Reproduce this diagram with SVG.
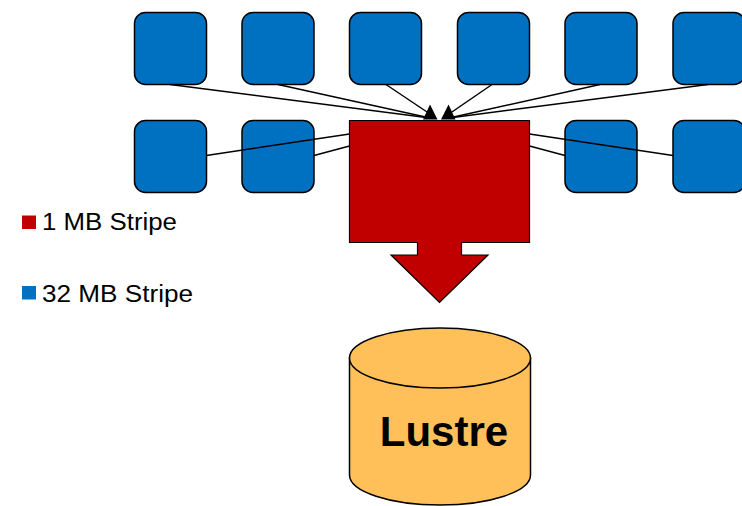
<svg xmlns="http://www.w3.org/2000/svg" width="742" height="506" viewBox="0 0 742 506">
<style>
.blk{fill:#0070C0;stroke:#000;stroke-width:1.5}
.ln{stroke:#000;stroke-width:1.5;fill:none}
.hd{fill:#000;stroke:none}
.lg{font-family:"Liberation Sans",Arial,sans-serif;font-size:23.5px;fill:#000}
</style>
<rect width="742" height="506" fill="#fff"/>
<g id="row1">
<g id="b1"><rect class="blk" x="134.5" y="12.5" width="72" height="72" rx="11"/></g>
<g id="b2"><rect class="blk" x="242" y="12.5" width="72" height="72" rx="11"/></g>
<g id="b3"><rect class="blk" x="349.5" y="12.5" width="72" height="72" rx="11"/></g>
<g id="b4"><rect class="blk" x="457.5" y="12.5" width="72" height="72" rx="11"/></g>
<g id="b5"><rect class="blk" x="565" y="12.5" width="72" height="72" rx="11"/></g>
<g id="b6"><rect class="blk" x="673" y="12.5" width="72" height="72" rx="11"/></g>
</g>
<g id="row2">
<g id="b7"><rect class="blk" x="134.5" y="120.5" width="72" height="72" rx="11"/></g>
<g id="b8"><rect class="blk" x="242" y="120.5" width="72" height="72" rx="11"/></g>
<g id="b9"><rect class="blk" x="565" y="120.5" width="72" height="72" rx="11"/></g>
<g id="b10"><rect class="blk" x="673" y="120.5" width="72" height="72" rx="11"/></g>
</g>
<g id="stripe">
<polygon points="349.5,120.5 529.5,120.5 529.5,242.5 461.5,242.5 461.5,255 488,255 439.5,302.5 391,255 417.5,255 417.5,242.5 349.5,242.5" fill="#C00000" stroke="#000" stroke-width="1.2"/>
</g>
<g id="connectors">
<line class="ln" x1="170" y1="84.5" x2="430" y2="118"/>
<line class="ln" x1="278" y1="84.5" x2="430" y2="118"/>
<line class="ln" x1="386" y1="84.5" x2="430" y2="114"/>
<line class="ln" x1="492" y1="84.5" x2="449" y2="114"/>
<line class="ln" x1="600" y1="84.5" x2="449" y2="118"/>
<line class="ln" x1="708" y1="84.5" x2="449" y2="118"/>
<polygon class="hd" points="423,119.5 430,104.5 437.5,119.5"/>
<polygon class="hd" points="441,119.5 448.5,104.5 455.5,119.5"/>
<line class="ln" x1="206.5" y1="155.5" x2="349.5" y2="134"/>
<line class="ln" x1="314" y1="155.5" x2="349.5" y2="146"/>
<line class="ln" x1="529.5" y1="134" x2="673" y2="155.5"/>
<line class="ln" x1="529.5" y1="146" x2="565" y2="155.5"/>
</g>
<g id="lustre">
<path d="M349.5,358 L349.5,475 A90.5,30 0 0 0 530.5,475 L530.5,358 Z" fill="#FFC05A" stroke="#000" stroke-width="1.5"/>
<ellipse cx="440" cy="358" rx="90.5" ry="30" fill="#FFC05A" stroke="#000" stroke-width="1.5"/>
<text x="444" y="446" text-anchor="middle" font-family="Liberation Sans,Arial,sans-serif" font-weight="bold" font-size="42" fill="#000">Lustre</text>
</g>
<g id="legend">
<rect x="22" y="215.5" width="14" height="13.5" fill="#C00000"/>
<text class="lg" x="42" y="230" textLength="135" lengthAdjust="spacingAndGlyphs">1 MB Stripe</text>
<rect x="22" y="286" width="14" height="13.5" fill="#0070C0"/>
<text class="lg" x="42" y="301.5" textLength="151" lengthAdjust="spacingAndGlyphs">32 MB Stripe</text>
</g>
</svg>
